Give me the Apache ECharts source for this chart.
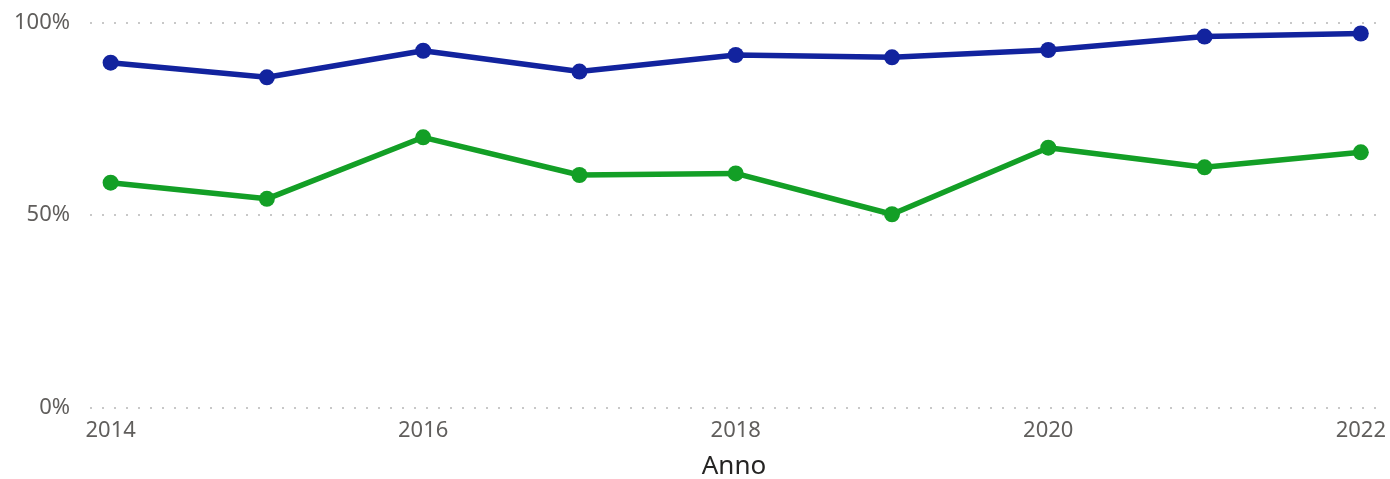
<!DOCTYPE html>
<html>
<head>
<meta charset="utf-8">
<script src="https://cdn.jsdelivr.net/npm/echarts@6/dist/echarts.min.js"></script>
<style>
html,body{margin:0;padding:0;background:#fff;overflow:hidden;}
#chart{width:1390px;height:479px;}
</style>
</head>
<body>
<div id="chart"></div>
<script>
const years = [2014, 2015, 2016, 2017, 2018, 2019, 2020, 2021, 2022];
const blueValues = [89.6, 85.8, 92.7, 87.3, 91.6, 91.0, 92.9, 96.4, 97.2];
const greenValues = [58.4, 54.2, 70.2, 60.4, 60.8, 50.2, 67.5, 62.4, 66.3];
const xTickLabels = [2014, 2016, 2018, 2020, 2022];
const yTicks = [0, 50, 100];
const xAxisTitle = 'Anno';

const font = '"Segoe UI", "Noto Sans", "Open Sans", sans-serif';
const chart = echarts.init(document.getElementById('chart'), null, {renderer: 'canvas'});

function pairs(vals) { return years.map((y, i) => [y, vals[i]]); }

chart.setOption({
  animation: false,
  backgroundColor: '#ffffff',
  grid: {left: 90, width: 1288, top: 22.7, height: 384.6, containLabel: false, outerBoundsMode: 'none'},
  xAxis: {
    type: 'value',
    min: 2013.868,
    max: 2022.11,
    name: xAxisTitle,
    nameLocation: 'middle',
    nameGap: 46,
    nameTextStyle: {color: '#252423', fontSize: 26, fontFamily: font},
    axisLine: {show: false},
    axisTick: {show: false},
    splitLine: {show: false},
    axisLabel: {
      customValues: xTickLabels,
      color: '#605e5c',
      fontSize: 22,
      fontFamily: font,
      margin: 12,
      formatter: v => String(v)
    }
  },
  yAxis: {
    type: 'value',
    min: 0,
    max: 100,
    interval: 50,
    axisLine: {show: false},
    axisTick: {show: false},
    axisLabel: {
      color: '#605e5c',
      fontSize: 22,
      fontFamily: font,
      margin: 20,
      formatter: v => yTicks.includes(v) ? v + '%' : ''
    },
    splitLine: {
      show: true,
      lineStyle: {color: '#c8c8c8', width: 2, type: [2, 10]}
    }
  },
  series: [
    {
      type: 'line',
      data: pairs(blueValues),
      symbol: 'circle',
      symbolSize: 16,
      color: '#12239E',
      lineStyle: {width: 5.5, color: '#12239E'},
      itemStyle: {color: '#12239E'}
    },
    {
      type: 'line',
      data: pairs(greenValues),
      symbol: 'circle',
      symbolSize: 16,
      color: '#139F26',
      lineStyle: {width: 5.5, color: '#139F26'},
      itemStyle: {color: '#139F26'}
    }
  ]
});
</script>
</body>
</html>
